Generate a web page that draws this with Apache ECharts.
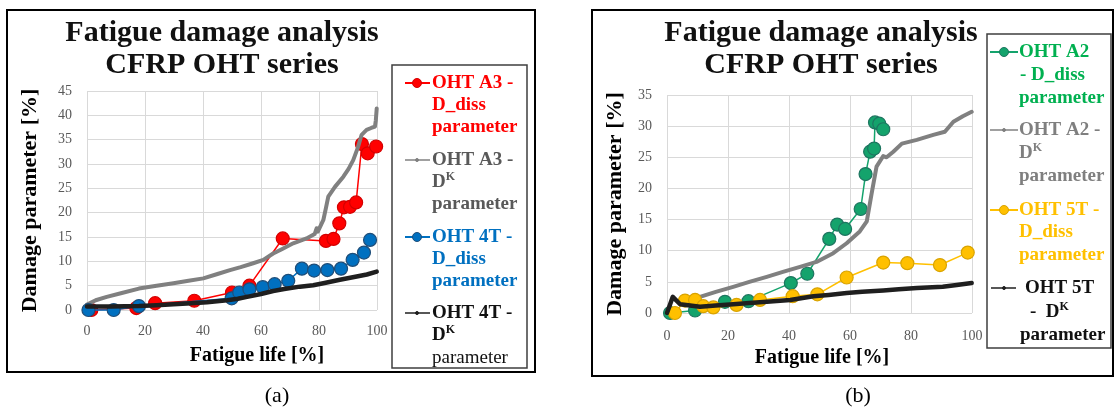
<!DOCTYPE html>
<html>
<head>
<meta charset="utf-8">
<script src="https://cdn.jsdelivr.net/npm/echarts@6/dist/echarts.min.js"></script>
<style>
  html, body { margin: 0; padding: 0; background: #ffffff; }
  #chart { width: 1114px; height: 412px; }
</style>
</head>
<body>
<div id="chart"></div>
<script>
// ---- Panel (a): OHT A3 and OHT 4T, [fatigue life %, damage %] ----
const a3Diss = [[1.5,0],[17,0.4],[23.5,1.4],[37,1.9],[50,3.6],[56,5.0],[67.5,14.7],[82.4,14.2],[85,14.6],[87,17.8],[88.6,21.1],[90.7,21.2],[92.8,22.1],[94.8,34.1],[96.8,32.2],[99.7,33.6]];
const a3DK = [[0,1.1],[3,2.0],[6.8,2.7],[12,3.5],[17.9,4.4],[24,5.0],[29.8,5.5],[35,6.0],[40.1,6.5],[45,7.4],[49.3,8.2],[53,8.8],[57.3,9.6],[60.8,10.3],[64.2,11.6],[67.5,12.6],[71.1,13.7],[75.7,14.7],[78.5,15.6],[79.2,16.8],[79.6,16.1],[81.5,18.5],[82.4,21.0],[83.2,23.3],[85.5,25.3],[88.4,27.4],[90.2,29.0],[91.8,30.8],[93.3,33.2],[94.7,36.0],[96.4,37.0],[98.0,37.4],[99.3,37.7],[99.6,39.0],[99.9,41.4]];
const t4Diss = [[0.5,0],[9.2,0],[17.9,0.8],[49.9,2.4],[52.5,3.6],[56,4.25],[60.6,4.7],[64.7,5.3],[69.4,6.0],[74.1,8.5],[78.3,8.1],[82.9,8.2],[87.6,8.5],[91.6,10.3],[95.5,11.8],[97.6,14.4]];
const t4DK = [[0,0.7],[8,0.7],[17.9,0.8],[24,1.0],[29.8,1.2],[36,1.4],[41.4,1.6],[48.3,2.0],[52,2.3],[55.2,2.7],[60,3.3],[64.2,3.9],[68,4.3],[73.4,4.8],[78,5.1],[81.5,5.5],[87.2,6.2],[93,6.9],[96.5,7.3],[99.9,7.9]];

// ---- Panel (b): OHT A2 and OHT 5T ----
const a2Diss = [[1,0],[9.2,0.4],[19,1.8],[26.7,1.9],[40.6,4.8],[46,6.3],[53.2,11.9],[55.8,14.2],[58.4,13.5],[63.5,16.7],[65.1,22.3],[66.6,25.9],[67.9,26.4],[68.2,30.6],[69.6,30.4],[70.9,29.5]];
const a2DK = [[5,1.9],[7.5,2.2],[10.8,2.6],[16,3.4],[21.7,4.2],[27,5.0],[32.7,5.8],[38,6.6],[43.6,7.4],[49,8.2],[54.5,9.6],[58.9,11.2],[63.2,13.1],[65.5,14.7],[67.1,19.2],[68.7,23.5],[70.9,25.2],[72,25.0],[74.2,25.9],[77,27.2],[81.9,27.8],[87.3,28.6],[91.1,29.1],[93.9,30.7],[97,31.6],[99.9,32.3]];
const t5Diss = [[2.6,0],[5.9,2.0],[9.2,2.1],[11.9,1.1],[15.2,0.9],[22.8,1.3],[30.5,2.1],[41.2,2.7],[49.3,3.0],[58.9,5.7],[70.9,8.1],[78.8,8.0],[89.5,7.7],[98.6,9.7]];
const t5DK = [[0,0],[1.9,2.6],[4.3,1.4],[10.8,1.0],[16,1.2],[21.7,1.4],[27,1.6],[32.7,1.8],[40.4,2.1],[48,2.7],[53,2.9],[58.9,3.2],[64,3.4],[70.9,3.6],[76,3.8],[81.9,4.0],[90.4,4.2],[95,4.5],[99.9,4.8]];

// ---- Axis ticks ----
const xTicks = { min: 0, max: 100, step: 20 };
const yTicksA = { min: 0, max: 45, step: 5 };
const yTicksB = { min: 0, max: 35, step: 5 };

const SERIF = 'Liberation Serif';
const GRID_COLOR = '#d9d9d9';
const TICK_COLOR = '#595959';

function xAxis(gridIndex, margin) {
  return {
    type: 'value', gridIndex, min: xTicks.min, max: xTicks.max, interval: xTicks.step,
    axisLine: { show: false }, axisTick: { show: false },
    splitLine: { show: true, lineStyle: { color: GRID_COLOR, width: 1 } },
    axisLabel: { margin, color: TICK_COLOR, fontFamily: SERIF, fontSize: 14 }
  };
}
function yAxis(gridIndex, ticks, nameGap) {
  return {
    type: 'value', gridIndex, min: ticks.min, max: ticks.max, interval: ticks.step,
    name: 'Damage parameter [%]', nameLocation: 'middle', nameGap,
    nameTextStyle: { fontFamily: SERIF, fontSize: 22, fontWeight: 'bold', color: '#000' },
    axisLine: { show: false }, axisTick: { show: false },
    splitLine: { show: true, lineStyle: { color: GRID_COLOR, width: 1 } },
    axisLabel: { margin: 15, color: TICK_COLOR, fontFamily: SERIF, fontSize: 14 }
  };
}
function markerSeries(idx, data, line, fill, border, z) {
  return {
    type: 'line', xAxisIndex: idx, yAxisIndex: idx, data, z,
    symbol: 'circle', symbolSize: 13, clip: false,
    lineStyle: { color: line, width: 1.5 },
    itemStyle: { color: fill, borderColor: border, borderWidth: 1.2 }
  };
}
function thickSeries(idx, data, color, width, z) {
  return {
    type: 'line', xAxisIndex: idx, yAxisIndex: idx, data, z,
    symbol: 'none', lineStyle: { color, width, join: 'round', cap: 'round' }
  };
}

// ---- Decorations: frames, titles, axis titles, legends ----
function txt(x, y, text, size, color, weight, align) {
  return { type: 'text', x, y, silent: true, z: 100,
    style: { text, fontFamily: SERIF, fontSize: size, fontWeight: weight || 'bold',
      fill: color, align: align || 'left', verticalAlign: 'middle' } };
}
function dkTxt(x, y, prefix, color) {
  return { type: 'text', x, y, silent: true, z: 100,
    style: { text: '{d|' + prefix + 'D}{k|K}', verticalAlign: 'middle', align: 'left',
      rich: {
        d: { fontFamily: SERIF, fontSize: 19, fontWeight: 'bold', fill: color, lineHeight: 22 },
        k: { fontFamily: SERIF, fontSize: 12, fontWeight: 'bold', fill: color, verticalAlign: 'top', lineHeight: 22 }
      } } };
}
function legendLine(x1, x2, y, color, width) {
  return { type: 'line', silent: true, z: 100, shape: { x1, y1: y, x2, y2: y },
    style: { stroke: color, lineWidth: width } };
}
function legendDot(cx, cy, r, fill, stroke) {
  return { type: 'circle', silent: true, z: 101, shape: { cx, cy, r },
    style: { fill, stroke, lineWidth: 1 } };
}
function box(x, y, w, h, color, width) {
  return { type: 'rect', silent: true, z: 90, shape: { x, y, width: w, height: h },
    style: { fill: 'none', stroke: color, lineWidth: width } };
}

const RED = '#ff0000', GRAY = '#808080', BLUE = '#0070c0', BLACK = '#1f1f1f';
const GREEN = '#14a36c', YELLOW = '#ffc000';

const graphics = [
  box(7, 10, 528, 362, '#000', 2),
  box(592, 10, 521, 366, '#000', 2),
  box(392, 65, 135, 303, '#3f3f3f', 1.5),
  box(987, 34, 124, 314, '#3f3f3f', 1.5),

  txt(222, 33, 'Fatigue damage analysis', 30, '#111', 'bold', 'center'),
  txt(222, 65, 'CFRP OHT series', 30, '#111', 'bold', 'center'),
  txt(821, 33, 'Fatigue damage analysis', 30, '#111', 'bold', 'center'),
  txt(821, 65, 'CFRP OHT series', 30, '#111', 'bold', 'center'),

  txt(257, 356, 'Fatigue life [%]', 20, '#000', 'bold', 'center'),
  txt(822, 358, 'Fatigue life [%]', 20, '#000', 'bold', 'center'),

  txt(277, 396, '(a)', 22, '#000', 'normal', 'center'),
  txt(858, 396, '(b)', 22, '#000', 'normal', 'center'),

  // legend (a)
  legendLine(405, 430, 83, RED, 2), legendDot(417, 83, 4.5, RED, '#d40000'),
  txt(432, 83, 'OHT A3 -', 19, RED), txt(432, 105, 'D_diss', 19, RED), txt(432, 127, 'parameter', 19, RED),
  legendLine(405, 430, 160, GRAY, 1.5), legendDot(417, 160, 1.5, GRAY, GRAY),
  txt(432, 160, 'OHT A3 -', 19, '#595959'), dkTxt(432, 182, '', '#595959'), txt(432, 204, 'parameter', 19, '#595959'),
  legendLine(405, 430, 237, BLUE, 2), legendDot(417, 237, 4.5, BLUE, '#1f4e79'),
  txt(432, 237, 'OHT 4T -', 19, BLUE), txt(432, 259, 'D_diss', 19, BLUE), txt(432, 281, 'parameter', 19, BLUE),
  legendLine(405, 430, 313, BLACK, 1.5), legendDot(417, 313, 1.5, BLACK, BLACK),
  txt(432, 313, 'OHT 4T -', 19, '#111'), dkTxt(432, 335, '', '#111'), txt(432, 358, 'parameter', 19, '#111', 'normal'),

  // legend (b)
  legendLine(990, 1018, 52, GREEN, 2), legendDot(1004, 52, 4.5, GREEN, '#1e7560'),
  txt(1019, 52, 'OHT A2', 19, '#00b050'), txt(1020, 75, '- D_diss', 19, '#00b050'), txt(1019, 98, 'parameter', 19, '#00b050'),
  legendLine(990, 1018, 130, GRAY, 1.5), legendDot(1004, 130, 1.5, GRAY, GRAY),
  txt(1019, 130, 'OHT A2 -', 19, '#7f7f7f'), dkTxt(1019, 153, '', '#7f7f7f'), txt(1019, 176, 'parameter', 19, '#7f7f7f'),
  legendLine(990, 1018, 210, YELLOW, 2), legendDot(1004, 210, 4.5, YELLOW, '#d9a300'),
  txt(1019, 210, 'OHT 5T -', 19, YELLOW), txt(1019, 232, 'D_diss', 19, YELLOW), txt(1019, 255, 'parameter', 19, YELLOW),
  legendLine(991, 1016, 288, BLACK, 1.5), legendDot(1004, 288, 1.5, BLACK, BLACK),
  txt(1025, 288, 'OHT 5T', 19, '#111'), dkTxt(1030, 312, '-  ', '#111'), txt(1020, 335, 'parameter', 19, '#111')
];

const chart = echarts.init(document.getElementById('chart'), null, { renderer: 'canvas' });
chart.setOption({
  animation: false,
  backgroundColor: '#ffffff',
  grid: [
    { left: 87, top: 91, width: 290, height: 219 },
    { left: 667, top: 95, width: 305, height: 218 }
  ],
  xAxis: [xAxis(0, 14), xAxis(1, 16)],
  yAxis: [yAxis(0, yTicksA, 46), yAxis(1, yTicksB, 41)],
  series: [
    markerSeries(0, a3Diss, RED, RED, '#d40000', 2),
    thickSeries(0, a3DK, GRAY, 4, 3),
    markerSeries(0, t4Diss, BLUE, BLUE, '#1f4e79', 4),
    thickSeries(0, t4DK, BLACK, 4.5, 5),
    markerSeries(1, a2Diss, GREEN, GREEN, '#1e7560', 2),
    thickSeries(1, a2DK, GRAY, 4, 3),
    markerSeries(1, t5Diss, YELLOW, YELLOW, '#d9a300', 4),
    thickSeries(1, t5DK, BLACK, 4.5, 5)
  ],
  graphic: graphics
});
</script>
</body>
</html>
